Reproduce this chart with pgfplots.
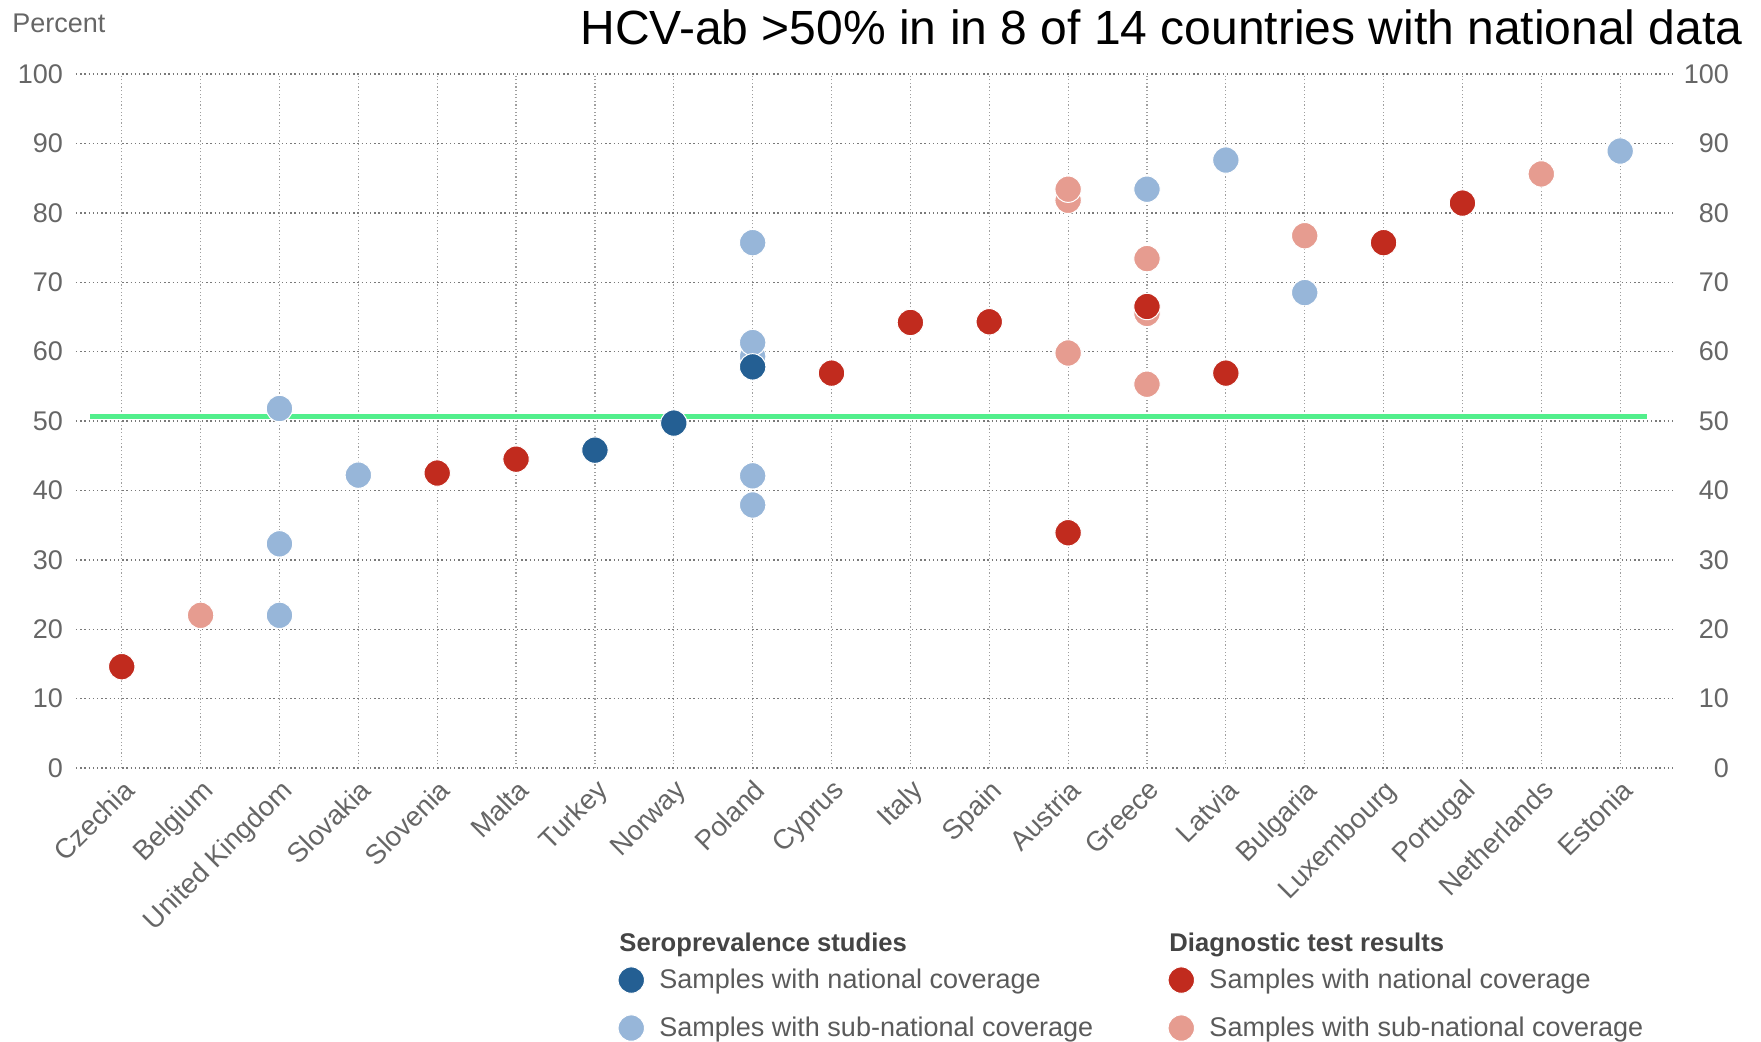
\documentclass[border=0pt]{standalone}
\usepackage{pgfplots}
\pgfplotsset{compat=1.18}
\usepackage{fontspec}
\setmainfont{Liberation Sans}
\definecolor{darkblue}{HTML}{245F93}
\definecolor{lightblue}{HTML}{97B6D9}
\definecolor{darkred}{HTML}{C12B1E}
\definecolor{lightred}{HTML}{E69C90}
\definecolor{refgreen}{HTML}{52EF8C}
\definecolor{labelgray}{HTML}{666666}
\definecolor{titlegray}{HTML}{444444}
\definecolor{legendgray}{HTML}{5A5A5A}
\pgfplotsset{
  dotmark/.style={only marks, mark=*, mark size=6.6pt, mark options={draw=white, line width=0.5pt, fill=#1}},
}
\newcommand{\legtitle}[1]{\hspace*{-14.5pt}{\color{titlegray}\bfseries\fontsize{12.8}{15}\selectfont #1}}
\newcommand{\legtext}[1]{\hspace*{5.5pt}#1}
\begin{document}
\begin{tikzpicture}[x=1pt,y=1pt]
\useasboundingbox (0,0) rectangle (880.5,520.5);
\node[anchor=base east, inner sep=0pt, font=\fontsize{24}{28}\selectfont] at (871.5,498) {HCV-ab >50\% in in 8 of 14 countries with national data};
\node[anchor=base west, inner sep=0pt, font=\fontsize{13.5}{16}\selectfont, text=labelgray] at (6,504) {Percent};
\begin{axis}[
  at={(38pt,136.5pt)}, anchor=south west,
  scale only axis, width=798.5pt, height=347pt,
  xmin=-0.58, xmax=19.67, ymin=0, ymax=100,
  axis line style={draw=none}, major tick length=0pt,
  xtick={0,...,19},
  xticklabels={Czechia,Belgium,United Kingdom,Slovakia,Slovenia,Malta,Turkey,Norway,Poland,Cyprus,Italy,Spain,Austria,Greece,Latvia,Bulgaria,Luxembourg,Portugal,Netherlands,Estonia},
  xticklabel style={rotate=45, anchor=north east, font=\fontsize{13.8}{16}\selectfont, text=labelgray},
  ytick={0,10,...,100},
  yticklabel style={font=\fontsize{13.5}{16}\selectfont, text=labelgray, xshift=-3pt},
  /pgf/number format/assume math mode=true,
  grid=major,
  major x grid style={draw=gray!75, line width=0.6pt, dash pattern=on 0.6pt off 1.2pt},
  major y grid style={draw=gray!95!black, line width=0.7pt, dash pattern=on 0.7pt off 1.4pt},
  clip=false,
  legend cell align=left,
  legend style={at={(axis description cs:0.333,-0.226)}, anchor=north west, draw=none, fill=none,
    font=\fontsize{13.5}{16}\selectfont, text=legendgray, row sep=3pt},
]
\addplot[dotmark=lightblue, forget plot] coordinates {
 (2,51.8) (2,32.3) (2,22.0) (3,42.2)
 (8,75.7) (8,59.3) (8,61.3) (8,42.1) (8,37.9)
 (13,83.4) (14,87.6) (15,68.5) (19,88.9)
};
\addplot[dotmark=lightred, forget plot] coordinates {
 (1,22.0) (12,81.8) (12,83.4) (12,59.8)
 (13,73.4) (13,65.5) (13,55.3) (15,76.7) (18,85.6)
};
\addplot[dotmark=darkblue, forget plot] coordinates {
 (6,45.8) (7,49.7) (8,57.8)
};
\addplot[dotmark=darkred, forget plot] coordinates {
 (0,14.6) (4,42.5) (5,44.5) (9,56.9) (10,64.2) (11,64.3)
 (12,33.9) (13,66.5) (14,56.9) (16,75.7) (17,81.4)
};
\addplot[refgreen, line width=2.5pt, forget plot] coordinates {(-0.40,50.7) (19.34,50.7)};
\addlegendimage{empty legend}
\addlegendentry{\legtitle{Seroprevalence studies}}
\addlegendimage{dotmark=darkblue}
\addlegendentry{\legtext{Samples with national coverage}}
\addlegendimage{dotmark=lightblue, every mark/.append style={yshift=-2.8pt}}
\addlegendentry{\legtext{\rule{0pt}{15.6pt}Samples with sub-national coverage}}
\end{axis}
\begin{axis}[
  at={(38pt,136.5pt)}, anchor=south west,
  scale only axis, width=798.5pt, height=347pt,
  xmin=-0.58, xmax=19.67, ymin=0, ymax=100,
  hide x axis,
  axis line style={draw=none}, major tick length=0pt,
  ytick={0,10,...,100},
  yticklabel pos=right,
  yticklabel style={anchor=east, font=\fontsize{13.5}{16}\selectfont, text=labelgray, xshift=31.5pt},
  /pgf/number format/assume math mode=true,
  clip=false,
  legend cell align=left,
  legend style={at={(axis description cs:0.6774,-0.226)}, anchor=north west, draw=none, fill=none,
    font=\fontsize{13.5}{16}\selectfont, text=legendgray, row sep=3pt},
]
\addlegendimage{empty legend}
\addlegendentry{\legtitle{Diagnostic test results}}
\addlegendimage{dotmark=darkred}
\addlegendentry{\legtext{Samples with national coverage}}
\addlegendimage{dotmark=lightred, every mark/.append style={yshift=-2.8pt}}
\addlegendentry{\legtext{\rule{0pt}{15.6pt}Samples with sub-national coverage}}
\end{axis}
\end{tikzpicture}
\end{document}
